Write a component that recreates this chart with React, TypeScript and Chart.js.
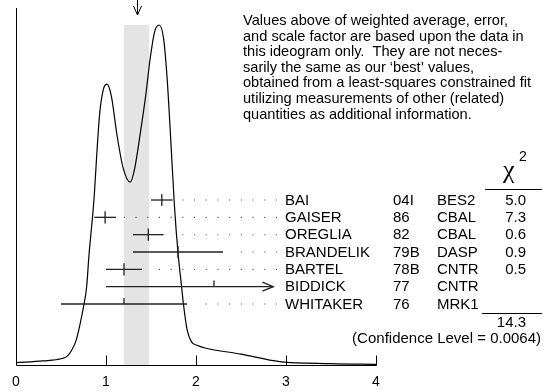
import React, { useEffect, useRef } from "react";
import { Chart, registerables } from "chart.js";

Chart.register(...registerables);

// ---------- data ----------
const NAMES = ["BAI", "GAISER", "OREGLIA", "BRANDELIK", "BARTEL", "BIDDICK", "WHITAKER"];
const CODES = ["04I", "86", "82", "79B", "78B", "77", "76"];
const EXPTS = ["BES2", "CBAL", "CBAL", "DASP", "CNTR", "CNTR", "MRK1"];
const VALUES = [1.62, 0.99, 1.47, 1.8, 1.2, 2.2, 1.2];
const ERRORS = [0.12, 0.12, 0.17, 0.5, 0.2, 1.2, 0.7];
const CHI2 = ["5.0", "7.3", "0.6", "0.9", "0.5", "", ""];
const FULL_CROSS = [true, true, true, true, true, false, false];
const CHI2_TOTAL = "14.3";
const CONF_LEVEL = "0.0064";

const AVG = 1.34;
const AVG_ERR = 0.14;

const CURVE_X = [
  0, 0.3, 0.51, 0.57, 0.62, 0.67, 0.71, 0.75, 0.785, 0.81, 0.85, 0.87, 0.9, 0.93, 0.97,
  1.01, 1.06, 1.12, 1.19, 1.27, 1.32, 1.38, 1.44, 1.49, 1.54, 1.59, 1.64, 1.68, 1.72,
  1.76, 1.8, 1.84, 1.86, 1.9, 1.95, 2.01, 2.1, 2.5, 2.93, 3.5, 4.0,
];
const CURVE_Y = [
  0.007, 0.012, 0.019, 0.026, 0.044, 0.074, 0.118, 0.171, 0.23, 0.32, 0.435, 0.5, 0.63, 0.74, 0.81,
  0.826, 0.79, 0.68, 0.58, 0.538, 0.58, 0.68, 0.79, 0.9, 0.98, 1.0, 0.96, 0.84, 0.66,
  0.47, 0.33, 0.23, 0.18, 0.105, 0.068, 0.058, 0.05, 0.032, 0.01, 0.004, 0.002,
];

const X_TICKS = [0, 1, 2, 3, 4];

const NOTE_LINES = [
  "Values above of weighted average, error,",
  "and scale factor are based upon the data in",
  "this ideogram only.  They are not neces-",
  "sarily the same as our \u2018best\u2019 values,",
  "obtained from a least-squares constrained fit",
  "utilizing measurements of other (related)",
  "quantities as additional information.",
];

// where the label table begins (in axis units), used to clip bars / dots
const LEADER_END = 2.9;
const ARROW_TIP = 2.86;
const LEADER_GAP = 0.09;
const TICK = 0.35;

const FONT = '"Liberation Sans", Arial, Helvetica, sans-serif';

const overlay = {
  id: "overlay",
  afterDatasetsDraw(chart: any) {
    const ctx = chart.ctx as CanvasRenderingContext2D;
    const xs = chart.scales.x;
    const rs = chart.scales.yrow;
    const a = chart.chartArea;
    ctx.save();
    ctx.strokeStyle = "#000";
    ctx.lineWidth = 1;
    // axes
    const L = Math.round(a.left) + 0.5;
    const B = Math.round(a.bottom) + 0.5;
    ctx.beginPath();
    ctx.moveTo(L, a.top);
    ctx.lineTo(L, B);
    ctx.lineTo(Math.round(a.right) + 0.5, B);
    ctx.stroke();
    // inward ticks
    xs.ticks.forEach((t: any) => {
      if (t.value === X_TICKS[0]) return;
      const px = Math.round(xs.getPixelForValue(t.value)) + 0.5;
      ctx.beginPath();
      ctx.moveTo(px, B - 10);
      ctx.lineTo(px, B);
      ctx.stroke();
    });
    // arrow at weighted average
    const ax = Math.round(xs.getPixelForValue(AVG)) + 0.5;
    ctx.beginPath();
    ctx.moveTo(ax, 0);
    ctx.lineTo(ax, 15);
    ctx.moveTo(ax - 4, 6);
    ctx.lineTo(ax, 15);
    ctx.lineTo(ax + 4, 6);
    ctx.stroke();
    // arrow heads for clipped bars
    VALUES.forEach((v, i) => {
      if (v + ERRORS[i] > LEADER_END) {
        const tx = xs.getPixelForValue(ARROW_TIP);
        const ty = rs.getPixelForValue(i);
        ctx.strokeStyle = "#222";
        ctx.lineWidth = 1.2;
        ctx.beginPath();
        ctx.moveTo(tx - 11, ty - 4.5);
        ctx.lineTo(tx, ty);
        ctx.lineTo(tx - 11, ty + 4.5);
        ctx.stroke();
      }
    });
    ctx.restore();
  },
  afterDraw(chart: any) {
    const ctx = chart.ctx as CanvasRenderingContext2D;
    const rs = chart.scales.yrow;
    ctx.save();
    ctx.fillStyle = "#000";
    // note
    ctx.font = `14.6px ${FONT}`;
    ctx.textAlign = "left";
    ctx.textBaseline = "alphabetic";
    NOTE_LINES.forEach((s, i) => ctx.fillText(s, 243, 25 + i * 15.6));
    // table
    ctx.font = `15px ${FONT}`;
    ctx.textBaseline = "middle";
    NAMES.forEach((n, i) => {
      const y = rs.getPixelForValue(i) + 0.5;
      ctx.textAlign = "left";
      ctx.fillText(n, 285, y);
      ctx.fillText(CODES[i], 393, y);
      ctx.fillText(EXPTS[i], 437, y);
      ctx.textAlign = "right";
      if (CHI2[i]) ctx.fillText(CHI2[i], 526, y);
    });
    ctx.textAlign = "right";
    ctx.fillText(CHI2_TOTAL, 526, 323);
    ctx.fillText(`(Confidence Level = ${CONF_LEVEL})`, 541, 339);
    // chi^2 header
    ctx.textBaseline = "alphabetic";
    ctx.textAlign = "left";
    ctx.font = `26px "Liberation Serif", serif`;
    ctx.fillText("\u03c7", 503, 178);
    ctx.font = `14px ${FONT}`;
    ctx.fillText("2", 519, 161);
    ctx.strokeStyle = "#000";
    ctx.lineWidth = 1;
    ctx.beginPath();
    ctx.moveTo(485, 189.5);
    ctx.lineTo(542, 189.5);
    ctx.moveTo(482, 313.5);
    ctx.lineTo(542, 313.5);
    ctx.stroke();
    ctx.restore();
  },
};

export default function App() {
  const ref = useRef<HTMLCanvasElement | null>(null);
  useEffect(() => {
    document.body.style.margin = "0";
    const canvas = ref.current!;
    const datasets: any[] = [];
    datasets.push({
      data: [
        { x: AVG - AVG_ERR, y: 1 },
        { x: AVG + AVG_ERR, y: 1 },
      ],
      yAxisID: "y",
      fill: "origin",
      backgroundColor: "#e4e4e4",
      borderWidth: 0,
      pointRadius: 0,
      order: 10,
    });
    datasets.push({
      data: CURVE_X.map((x, i) => ({ x, y: CURVE_Y[i] })),
      yAxisID: "y",
      borderColor: "#000",
      borderWidth: 1.2,
      cubicInterpolationMode: "monotone",
      pointRadius: 0,
      fill: false,
      order: 1,
    });
    VALUES.forEach((v, i) => {
      const lo = v - ERRORS[i];
      const hi = v + ERRORS[i];
      datasets.push({
        data: [
          { x: lo, y: i },
          { x: Math.min(hi, ARROW_TIP), y: i },
        ],
        yAxisID: "yrow",
        borderColor: "#222",
        borderWidth: 1.3,
        pointRadius: 0,
        fill: false,
        order: 0,
      });
      datasets.push({
        data: [
          { x: v, y: i - TICK },
          { x: v, y: FULL_CROSS[i] ? i + TICK : i },
        ],
        yAxisID: "yrow",
        borderColor: "#222",
        borderWidth: 1.3,
        pointRadius: 0,
        fill: false,
        order: 0,
      });
      if (hi + LEADER_GAP < LEADER_END) {
        datasets.push({
          data: [
            { x: LEADER_END, y: i },
            { x: hi + LEADER_GAP, y: i },
          ],
          yAxisID: "yrow",
          borderColor: "#555",
          borderWidth: 1.1,
          borderDash: [1.1, 10.6],
          pointRadius: 0,
          fill: false,
          order: 0,
        });
      }
    });

    const chart = new Chart(canvas, {
      type: "line",
      data: { datasets },
      options: {
        responsive: false,
        animation: false,
        devicePixelRatio: 1,
        layout: { padding: { left: 16, right: 172, top: 8, bottom: 0 } },
        plugins: { legend: { display: false }, tooltip: { enabled: false } },
        scales: {
          x: {
            type: "linear",
            min: X_TICKS[0],
            max: X_TICKS[X_TICKS.length - 1],
            afterBuildTicks: (s: any) => {
              s.ticks = X_TICKS.map((v) => ({ value: v }));
            },
            afterFit: (s: any) => {
              s.height = 27;
            },
            grid: { display: false, drawTicks: false },
            border: { display: false },
            ticks: {
              color: "#000",
              padding: 9,
              maxRotation: 0,
              font: { family: FONT, size: 14 },
            },
          },
          y: { type: "linear", axis: "y", display: false, min: 0, max: 1.05 },
          yrow: { type: "linear", axis: "y", display: false, reverse: true, min: -11.08, max: 9.52 },
        },
      },
      plugins: [overlay],
    } as any);
    return () => chart.destroy();
  }, []);
  return (
    <div style={{ width: 548, height: 392, background: "#fff" }}>
      <canvas ref={ref} width={548} height={392} style={{ display: "block" }} />
    </div>
  );
}
